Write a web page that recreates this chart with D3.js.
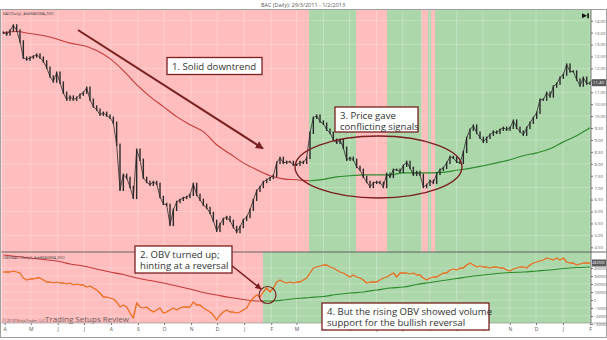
<!DOCTYPE html>
<html><head><meta charset="utf-8">
<script src="https://cdn.jsdelivr.net/npm/d3@7"></script>
<style>
html,body{margin:0;padding:0;background:#fff;}
svg{display:block;}
text{font-family:"Open Sans",sans-serif;}
</style></head><body>
<svg id="chart" width="607" height="340"></svg>
<script>
// ---------------- DATA ----------------
const title = "BAC (Daily): 29/3/2011 - 1/2/2013";
const startDate = new Date(2011, 2, 29);
const endDate = new Date(2013, 1, 1);
const monthLetters = ["J","F","M","A","M","J","J","A","S","O","N","D"];

// closing prices sampled along the period (sample index 1..177)
const priceClose = [
 13.50,13.42,13.59,13.80,13.59,13.13,12.45,12.37,12.45,12.50,
 12.58,12.45,12.29,12.03,11.66,11.45,11.82,11.40,10.98,10.69,
 10.82,10.69,10.77,10.90,10.98,11.19,10.69,10.40,10.27,10.06,
 10.14,10.02,9.93,9.72,8.80,6.91,7.54,7.41,7.03,6.57,
 8.59,8.17,7.41,7.24,7.12,7.24,7.16,6.61,6.32,6.28,
 5.44,6.07,6.40,6.49,6.57,6.61,6.70,7.16,6.70,6.49,
 6.28,6.15,5.94,5.61,5.19,5.48,5.69,5.77,5.61,5.35,
 5.14,5.35,5.65,5.77,6.07,6.49,6.87,7.03,7.24,7.33,
 7.41,7.50,8.04,8.25,8.04,8.08,8.08,7.96,7.96,8.08,
 8.04,8.25,9.30,9.93,10.02,9.77,9.68,9.43,9.30,9.01,
 8.88,9.01,8.67,8.17,8.25,8.17,7.87,7.75,7.45,7.24,
 7.03,7.20,7.24,7.20,7.03,7.58,7.45,7.75,7.75,7.66,
 7.92,8.08,7.83,7.54,7.66,7.54,7.03,7.12,7.29,7.20,
 7.58,7.75,7.83,8.04,8.29,8.25,8.08,8.04,8.50,9.09,
 9.43,9.60,9.30,9.09,8.92,9.09,9.22,9.35,9.30,9.43,
 9.51,9.43,9.51,9.81,9.51,9.35,9.22,9.51,9.72,9.93,
 10.14,10.69,10.69,10.98,10.82,11.24,11.36,11.61,11.74,12.16,
 11.87,11.87,11.53,11.28,11.61,11.36,11.40];

// SMA(200) of price, one value every 4 samples (index 1,5,9,...,177)
const smaEvery = 4;
const priceSma = [
 13.50,13.55,13.46,13.38,13.23,13.06,12.96,12.75,12.41,11.91,
 11.32,10.82,10.40,9.98,9.64,9.35,8.80,8.42,8.04,7.75,
 7.50,7.37,7.33,7.29,7.35,7.45,7.50,7.54,7.54,7.54,
 7.62,7.62,7.62,7.64,7.73,7.81,7.92,8.04,8.17,8.34,
 8.46,8.63,8.92,9.18,9.51];

// On Balance Volume (sample index 1..177)
const obv = [
 350000,350000,350000,362500,350000,337500,275000,250000,262500,262500,
 275000,275000,250000,225000,225000,212500,225000,212500,212500,200000,
 212500,187500,200000,187500,187500,162500,175000,150000,125000,87500,
 37500,37500,25000,12500,-25000,-87500,-62500,-87500,-162500,-225000,
 -37500,-87500,-100000,-87500,-125000,-150000,-125000,-100000,-162500,-150000,
 -125000,-100000,-125000,-100000,-87500,-87500,-87500,-25000,-62500,-62500,
 -100000,-125000,-150000,-187500,-250000,-187500,-150000,-125000,-150000,-150000,
 -162500,-150000,-125000,-100000,-25000,25000,62500,37500,100000,150000,
 100000,150000,225000,250000,225000,212500,225000,212500,225000,225000,
 250000,275000,337500,400000,412500,425000,437500,437500,412500,400000,
 375000,350000,337500,312500,287500,312500,287500,275000,250000,212500,
 225000,225000,225000,250000,275000,287500,312500,337500,287500,337500,
 337500,337500,325000,337500,312500,312500,275000,250000,275000,287500,
 287500,312500,337500,337500,375000,387500,375000,400000,400000,437500,
 462500,437500,412500,425000,412500,412500,400000,412500,412500,400000,
 400000,375000,362500,387500,400000,412500,412500,400000,437500,462500,
 475000,487500,500000,525000,512500,500000,525000,500000,525000,475000,
 462500,462500,437500,450000,462500,462500,462500];

// SMA(200) of OBV, one value every 4 samples
const obvSma = [
 562500,543750,525000,506250,487500,450000,425000,387500,350000,318750,
 275000,243750,212500,175000,137500,93750,62500,31250,6250,-12500,
 -12500,0,18750,31250,43750,68750,87500,100000,125000,150000,
 162500,193750,218750,243750,268750,293750,312500,331250,343750,350000,
 362500,375000,393750,406250,412500];

// sample indices where the background state flips (down -> up -> down ...)
const priceRegimeBreaks = [92.7, 106.8, 116.1, 126.5, 128.4, 129.3, 130.5];
const obvRegimeBreaks = [78.9];

const priceTicks = [4.5,5,5.5,6,6.5,7,7.5,8,8.5,9,9.5,10,10.5,11,11.5,12,12.5,13,13.5,14];
const obvTicks = [-300000,-200000,-100000,0,100000,200000,300000,400000];

const notes = {
  n1: ["1. Solid downtrend"],
  n2: ["2. OBV turned up;", "hinting at a reversal"],
  n3: ["3. Price gave", "conflicting signals"],
  n4: ["4. But the rising OBV showed volume", "support for the bullish reversal"]
};
const mainLabel = "BAC(Daily), AddMA(SMA,200)";
const obvLabel = "OBV(BAC (Daily)), AddMA(SMA,200)";
const copyright = "\u00A9 2018 NinjaTrader, LLC";
const watermark = "Trading Setups Review";

// ---------------- LAYOUT ----------------
const svg = d3.select("#chart");
const L = 1.5, R = 591, T = 10, MID = 252, B = 323;
const PINK = "#ffbdbd", GREEN = "#abd7ab";
const RED_LINE = "#c63a3a", GREEN_LINE = "#2e8b2e";
const MAROON = "#7a1f1f";

const N = priceClose.length;
const x = d3.scaleLinear().domain([0, 177]).range([0, 590]);
const xTime = d3.scaleTime().domain([startDate, endDate]).range([2, 590]);
const yP = d3.scaleLinear().domain([4.5, 14]).range([247.3, 20.7]);
const yO = d3.scaleLinear().domain([-300000, 400000]).range([324, 268]);

const defs = svg.append("defs");
defs.append("clipPath").attr("id","clipMain").append("rect").attr("x",L).attr("y",T).attr("width",R-L).attr("height",MID-T);
defs.append("clipPath").attr("id","clipObv").append("rect").attr("x",L).attr("y",MID).attr("width",R-L).attr("height",B-MID);

// title
svg.append("text").attr("x",303).attr("y",7).attr("text-anchor","middle")
  .attr("font-size",5.5).attr("fill","#555").text(title);

// backgrounds
function regimes(breaks){
  const edges = [0, ...breaks, 177.5];
  return d3.pairs(edges).map((p,i)=>({a:p[0], b:p[1], up: i%2===1}));
}
const gMain = svg.append("g").attr("clip-path","url(#clipMain)");
const gObv = svg.append("g").attr("clip-path","url(#clipObv)");
gMain.selectAll("rect.bg").data(regimes(priceRegimeBreaks)).join("rect")
  .attr("x",d=>x(d.a)).attr("width",d=>x(d.b)-x(d.a)).attr("y",T).attr("height",MID-T)
  .attr("fill",d=>d.up?GREEN:PINK);
gObv.selectAll("rect.bg").data(regimes(obvRegimeBreaks)).join("rect")
  .attr("x",d=>x(d.a)).attr("width",d=>x(d.b)-x(d.a)).attr("y",MID).attr("height",B-MID)
  .attr("fill",d=>d.up?GREEN:PINK);

// grid lines
const months = d3.timeMonth.range(d3.timeMonth.ceil(startDate), d3.timeDay.offset(endDate,1));
[gMain, gObv].forEach((g,gi)=>{
  g.selectAll("line.vg").data(months).join("line")
    .attr("x1",d=>xTime(d)).attr("x2",d=>xTime(d))
    .attr("y1",gi?MID:T).attr("y2",gi?B:MID)
    .attr("stroke","#fff").attr("stroke-opacity",0.28).attr("stroke-width",1);
});
gMain.selectAll("line.hg").data(priceTicks.filter((d,i)=>i%2===1)).join("line")
  .attr("x1",L).attr("x2",R).attr("y1",d=>yP(d)).attr("y2",d=>yP(d))
  .attr("stroke","#fff").attr("stroke-opacity",0.22);
gObv.selectAll("line.hg").data(obvTicks).join("line")
  .attr("x1",L).attr("x2",R).attr("y1",d=>yO(d)).attr("y2",d=>yO(d))
  .attr("stroke","#fff").attr("stroke-opacity",0.22);

// SMA lines split in colour at the first regime change
function smaLine(g, values, yScale, turn, top, bottom, id){
  const line = d3.line().x((d,i)=>x(1+i*smaEvery)).y(d=>yScale(d)).curve(d3.curveMonotoneX);
  defs.append("clipPath").attr("id",id+"a").append("rect").attr("x",0).attr("y",top).attr("width",x(turn)).attr("height",bottom-top);
  defs.append("clipPath").attr("id",id+"b").append("rect").attr("x",x(turn)).attr("y",top).attr("width",607-x(turn)).attr("height",bottom-top);
  g.append("path").attr("d",line(values)).attr("fill","none").attr("stroke",RED_LINE).attr("stroke-width",1.1).attr("clip-path",`url(#${id}a)`);
  g.append("path").attr("d",line(values)).attr("fill","none").attr("stroke",GREEN_LINE).attr("stroke-width",1.2).attr("clip-path",`url(#${id}b)`);
}
smaLine(gMain, priceSma, yP, priceRegimeBreaks[0], T, MID, "smaP");
smaLine(gObv, obvSma, yO, obvRegimeBreaks[0], MID, B, "smaO");

// price candles (body from previous close to close)
const cg = gMain.append("g");
cg.append("path").attr("d", d3.line().x((d,i)=>x(i+1)).y(d=>yP(d))(priceClose))
  .attr("fill","none").attr("stroke","#2a2a2a").attr("stroke-width",0.8);
cg.selectAll("rect").data(priceClose).join("rect")
  .attr("x",(d,i)=>x(i+1)-0.7).attr("width",1.4)
  .attr("y",(d,i)=>{const o=i?priceClose[i-1]:d; return Math.min(yP(o),yP(d))-1.2;})
  .attr("height",(d,i)=>{const o=i?priceClose[i-1]:d; return Math.abs(yP(o)-yP(d))+2.4;})
  .attr("fill","#2b2b2b");

// OBV line
gObv.append("path").attr("d", d3.line().x((d,i)=>x(i+1)).y(d=>yO(d))(obv))
  .attr("fill","none").attr("stroke","#ec6b1c").attr("stroke-width",1.3).attr("stroke-linejoin","round");

// panel labels
svg.append("text").attr("x",3).attr("y",15).attr("font-size",3.8).attr("fill","#444").text(mainLabel);
svg.append("text").attr("x",3).attr("y",259).attr("font-size",3.8).attr("fill","#444").text(obvLabel);
svg.append("text").attr("x",2.5).attr("y",322).attr("font-size",3.8).attr("fill","#555").text(copyright);
svg.append("text").attr("x",45).attr("y",321.5).attr("font-size",8).attr("fill","#6b5e5e").text(watermark);

// end icon
svg.append("path").attr("d","M582,13.3 L587,15.8 L582,18.3 Z").attr("fill","#111");
svg.append("rect").attr("x",587.3).attr("y",13.3).attr("width",1.6).attr("height",5).attr("fill","#111");

// right axes
const axP = d3.axisRight(yP).tickValues(priceTicks).tickFormat(d3.format(".2f")).tickSize(2).tickPadding(1.5);
const gAxP = svg.append("g").attr("transform",`translate(${R},0)`).call(axP);
const axO = d3.axisRight(yO).tickValues(obvTicks).tickFormat(d3.format("d")).tickSize(2).tickPadding(1);
const gAxO = svg.append("g").attr("transform",`translate(${R},0)`).call(axO);
[gAxP,gAxO].forEach((g,gi)=>{
  g.select(".domain").remove();
  g.selectAll("text").attr("font-size",gi?3.5:4.3).attr("fill","#555").attr("font-family","Open Sans, sans-serif");
  g.selectAll("line").attr("stroke","#777");
});
// current value boxes
const lastP = priceClose[N-1], lastO = obv[N-1];
svg.append("rect").attr("x",R+1).attr("y",yP(lastP)-3.5).attr("width",14).attr("height",7).attr("fill","#5a5a5a");
svg.append("text").attr("x",R+2).attr("y",yP(lastP)+1.5).attr("font-size",4.3).attr("fill","#fff").text(d3.format(".2f")(lastP));
svg.append("rect").attr("x",R+1).attr("y",yO(lastO)-3.5).attr("width",15).attr("height",7).attr("fill","#5a5a5a");
svg.append("text").attr("x",R+1.5).attr("y",yO(lastO)+1.3).attr("font-size",3.5).attr("fill","#fff").text(d3.format("d")(lastO));

// bottom axis
const axX = d3.axisBottom(xTime).tickValues(months).tickFormat(d=>monthLetters[d.getMonth()]).tickSize(2).tickPadding(2);
const gAxX = svg.append("g").attr("transform",`translate(0,${B})`).call(axX);
gAxX.select(".domain").remove();
gAxX.selectAll("text").attr("font-size",5).attr("fill","#555").attr("font-family","Open Sans, sans-serif");
gAxX.selectAll("line").attr("stroke","#777");

// frame and separators
svg.append("line").attr("x1",R).attr("x2",R).attr("y1",T).attr("y2",B).attr("stroke","#555").attr("stroke-width",0.8);
svg.append("line").attr("x1",L).attr("x2",606.5).attr("y1",MID).attr("y2",MID).attr("stroke","#555").attr("stroke-width",0.9);
svg.append("line").attr("x1",L).attr("x2",606.5).attr("y1",B).attr("y2",B).attr("stroke","#888").attr("stroke-width",0.6);
svg.append("rect").attr("x",0.5).attr("y",9.5).attr("width",606).attr("height",328).attr("fill","none").attr("stroke","#a0a0a0");

// ---------------- ANNOTATIONS ----------------
const ann = svg.append("g");
defs.append("marker").attr("id","ah").attr("viewBox","0 0 10 10").attr("refX",9).attr("refY",5)
  .attr("markerWidth",4).attr("markerHeight",4).attr("orient","auto")
  .append("path").attr("d","M0,0 L10,5 L0,10 Z").attr("fill",MAROON);

ann.append("line").attr("x1",78).attr("y1",30).attr("x2",263).attr("y2",148.5)
  .attr("stroke",MAROON).attr("stroke-width",2).attr("marker-end","url(#ah)");
ann.append("line").attr("x1",231).attr("y1",265).attr("x2",261).attr("y2",289)
  .attr("stroke",MAROON).attr("stroke-width",1.6).attr("marker-end","url(#ah)");
ann.append("ellipse").attr("cx",378.5).attr("cy",167).attr("rx",83.5).attr("ry",31)
  .attr("fill","none").attr("stroke",MAROON).attr("stroke-width",1.4);
ann.append("circle").attr("cx",267.5).attr("cy",295).attr("r",8.5)
  .attr("fill","none").attr("stroke",MAROON).attr("stroke-width",1.2);

function box(x0,y0,x1,y1,lines,firstBase,lh){
  ann.append("rect").attr("x",x0).attr("y",y0).attr("width",x1-x0).attr("height",y1-y0)
    .attr("fill","#fff").attr("stroke",MAROON).attr("stroke-width",1.3);
  lines.forEach((t,i)=>ann.append("text").attr("x",x0+5).attr("y",firstBase+i*lh)
    .attr("font-size",9.6).attr("fill","#333").text(t));
}
box(167,57.5,262,74.5,notes.n1,69.5,0);
box(135,246,232,273,notes.n2,257.5,11);
box(335,107,418,132,notes.n3,118.5,11);
box(322,303,489,330,notes.n4,314.5,11);
</script>
</body></html>
